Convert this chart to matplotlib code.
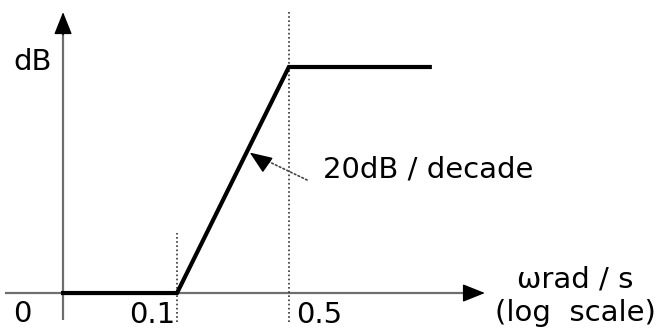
import matplotlib.pyplot as plt

# Bode magnitude asymptote (log frequency axis)
corner_freqs = [0.1, 0.5]
omega = [0.0194, 0.1, 0.5, 3.8]
gain_db = [0, 0, 14, 14]
tick_labels = ["0.1", "0.5"]
slope_label = "20dB / decade"

W, H = 662, 335


def px(x, y):
    # pixel position -> axes fraction (layout only)
    return (x / W, 1 - y / H)


fig = plt.figure(figsize=(W / 100, H / 100), dpi=100)
ax = fig.add_axes([0, 0, 1, 1])
ax.set_xscale("log")
ax.set_xlim(0.00783, 107.4)
ax.set_ylim(-2.6, 18.15)
ax.axis("off")

font = dict(family="DejaVu Sans", fontsize=21, color="black")
axis_col = "#6e6e6e"
x0 = omega[0]

# axes lines
ax.plot([x0, x0], [-1.67, 16.5], color=axis_col, lw=1.6, solid_capstyle="butt")
ax.plot([0.0084, 7.5], [0, 0], color=axis_col, lw=1.6, solid_capstyle="butt")
head = dict(arrowstyle="-|>,head_length=0.5,head_width=0.2", mutation_scale=28,
            color="black", shrinkA=0, shrinkB=0, lw=1)
ax.annotate("", xy=(x0, 17.4), xytext=(x0, 16.0), arrowprops=head)
ax.annotate("", xy=(8.4, 0), xytext=(6.8, 0), arrowprops=head)

# dotted guides at corner frequencies
ax.plot([corner_freqs[0]] * 2, [-1.8, 3.7], color="#333333", lw=1.2, ls=(0, (1, 1.5)))
ax.plot([corner_freqs[1]] * 2, [-1.8, 17.5], color="#333333", lw=1.2, ls=(0, (1, 1.5)))

# asymptote
ax.plot(omega, gain_db, color="black", lw=3, solid_joinstyle="miter")

# slope annotation: dotted leader + solid head
tip = (0.285, 8.7)
ax.annotate("", xy=tip, xytext=(0.65, 7.0),
            arrowprops=dict(arrowstyle="-", color="#444444", lw=1.2, ls=(0, (1, 1.5)),
                            shrinkA=0, shrinkB=12))
ax.annotate("", xy=tip, xytext=(0.36, 8.0), arrowprops=head)
ax.text(*px(323, 170), slope_label, transform=ax.transAxes, ha="left", va="center", **font)

# labels
ax.text(*px(13, 62), "dB", transform=ax.transAxes, ha="left", va="center", **font)
ax.text(*px(22, 314), "0", transform=ax.transAxes, ha="center", va="center", **font)
ax.annotate(tick_labels[0], xy=(corner_freqs[0], 0), xytext=(-1, -15.5),
            textcoords="offset points", ha="right", va="center", **font)
ax.annotate(tick_labels[1], xy=(corner_freqs[1], 0), xytext=(5, -15.5),
            textcoords="offset points", ha="left", va="center", **font)
ax.text(*px(575, 280), "\u03c9rad / s", transform=ax.transAxes, ha="center", va="center", **font)
ax.text(*px(575, 313), "(log  scale)", transform=ax.transAxes, ha="center", va="center", **font)

fig.savefig("out.png", dpi=100)
